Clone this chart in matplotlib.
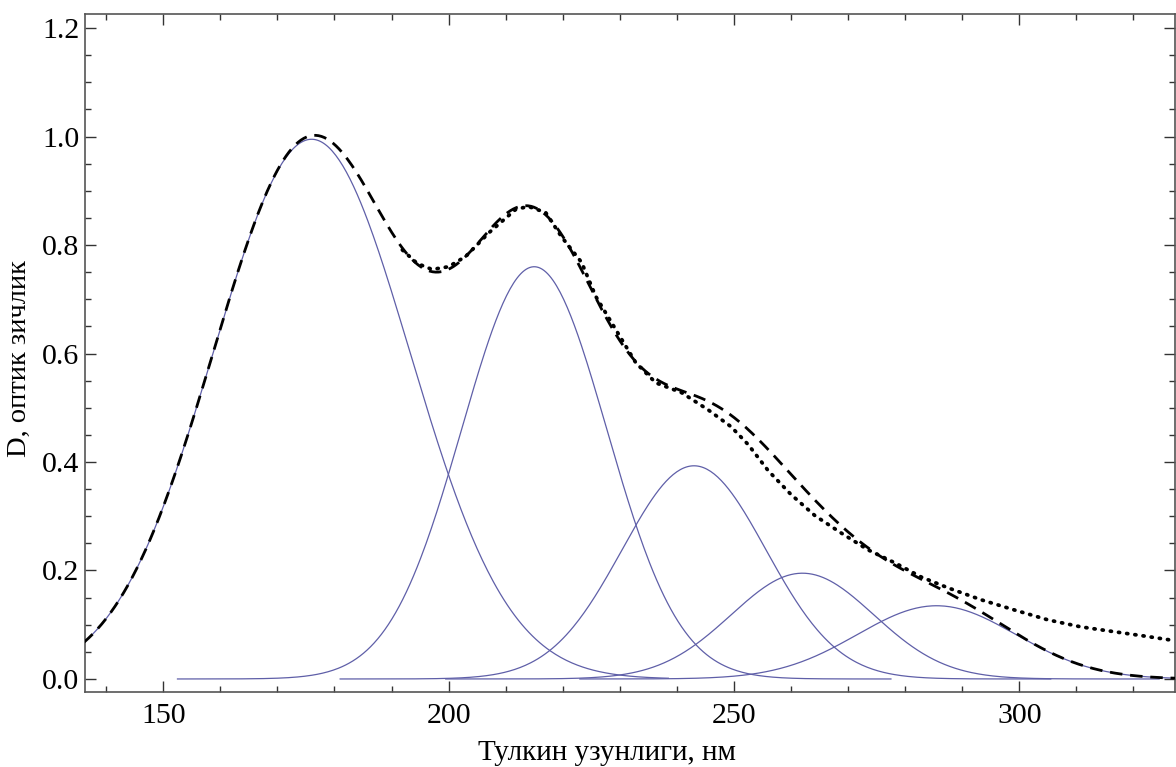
import numpy as np
import matplotlib.pyplot as plt
from matplotlib.ticker import MultipleLocator

# gaussian components (fit): centre, height, sigma, plotted range
centres = [176.0, 215.0, 243.0, 262.0, 285.5]
heights = [0.995, 0.760, 0.393, 0.195, 0.135]
sigmas = [17.2, 12.7, 12.6, 12.5, 13.9]
x_from = [113.5, 152.5, 181.0, 199.5, 223.0]
x_to = [238.5, 277.5, 305.5, 324.5, 348.0]

exp_x = [191.9, 194.5, 197.1, 200.0, 203.0, 207.1, 211.8, 214.0, 217.0, 219.8,
         223.3, 225.8, 229.3, 232.8, 236.3, 240.8, 245.5, 249.5, 252.5, 256.0,
         260.0, 264.2, 268.8, 273.5, 278.2, 282.8, 287.5, 293.3, 299.2, 305.0,
         310.8, 316.7, 322.0, 327.0]
exp_y = [0.791, 0.766, 0.755, 0.760, 0.779, 0.823, 0.866, 0.871, 0.860, 0.815,
         0.768, 0.705, 0.644, 0.583, 0.546, 0.528, 0.496, 0.465, 0.432, 0.384,
         0.340, 0.301, 0.269, 0.238, 0.214, 0.188, 0.168, 0.146, 0.127, 0.109,
         0.096, 0.087, 0.079, 0.071]

x_ticks = [150, 200, 250, 300]
y_ticks = [0.0, 0.2, 0.4, 0.6, 0.8, 1.0, 1.2]
xlabel = "Тулкин узунлиги, нм"
ylabel = "D, оптик зичлик"


def gauss(x, c, h, s):
    return h * np.exp(-(x - c) ** 2 / (2 * s ** 2))


plt.rcParams['font.family'] = ['Liberation Serif', 'DejaVu Serif']
fig = plt.figure(figsize=(11.76, 7.67), dpi=100)
ax = fig.add_axes([0.0723, 0.0978, 0.9265, 0.884])

for c, h, s, a, b in zip(centres, heights, sigmas, x_from, x_to):
    xx = np.linspace(a, b, 400)
    ax.plot(xx, gauss(xx, c, h, s), color='#5f5fa8', lw=0.9, zorder=2)

xs = np.linspace(130, 335, 800)
total = sum(gauss(xs, c, h, s) for c, h, s in zip(centres, heights, sigmas))
ax.plot(xs, total, color='black', lw=2.0, dashes=(4.5, 2.8), zorder=3)

ax.plot(exp_x, exp_y, color='black', lw=2.7, linestyle=(0, (0.3, 1.9)),
        dash_capstyle='round', zorder=4)

ax.set_xlim(136.3, 327.2)
ax.set_ylim(-0.024, 1.226)
ax.set_xticks(x_ticks)
ax.set_yticks(y_ticks)
ax.set_yticklabels([f"{v:.1f}" for v in y_ticks])
ax.xaxis.set_minor_locator(MultipleLocator(10))
ax.yaxis.set_minor_locator(MultipleLocator(0.05))
ax.tick_params(which='both', direction='in', top=True, right=True,
               labelsize=21.5, color='#333333', width=1.0)
ax.tick_params(which='major', length=8)
ax.tick_params(which='minor', length=4)
ax.tick_params(axis='x', which='major', pad=8)
ax.tick_params(axis='y', which='major', pad=4)
for sp in ax.spines.values():
    sp.set_color('#555555')
    sp.set_linewidth(1.2)

ax.set_xlabel(xlabel, fontsize=21)
ax.set_ylabel(ylabel, fontsize=20.5)
ax.xaxis.set_label_coords(0.479, -0.071)
ax.yaxis.set_label_coords(-0.049, 0.492)

fig.savefig('out.png', dpi=100)
